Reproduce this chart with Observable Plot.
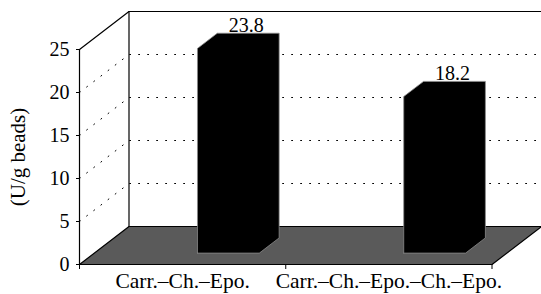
<!DOCTYPE html>
<html>
<head>
<meta charset="utf-8">
<script src="https://cdn.jsdelivr.net/npm/d3@7"></script>
<script src="https://cdn.jsdelivr.net/npm/@observablehq/plot@0.6"></script>
<style>
  html, body { margin: 0; padding: 0; background: white; }
  svg text { font-family: "Liberation Serif", "DejaVu Serif", serif !important; }
</style>
</head>
<body>
<div id="chart"></div>
<script>
// ---- data ----
const categories = ["Carr.–Ch.–Epo.", "Carr.–Ch.–Epo.–Ch.–Epo."];
const values = [23.8, 18.2];
const valueLabels = ["23.8", "18.2"];
const yTicks = [0, 5, 10, 15, 20, 25];
const yTitle = "(U/g beads)";

// ---- 3D layout (oblique projection in data units) ----
const FONT = "Liberation Serif";
const n = categories.length;
const yMax = 25;
const DX = 0.24;          // depth offset in x units
const DY = 38 / 8.6;      // depth offset in y units
const P = (cx, v, z) => ({x: cx + z * DX, y: v + z * DY});
const barX0 = 0.5, barX1 = 0.8, barZ0 = 0.3, barZ1 = 0.7;

const floor = [[0,0,0],[n,0,0],[n,0,1],[0,0,1],[0,0,0]].map(([c,v,z]) => P(c,v,z));
const grid = yTicks.filter(v => v > 0 && v < yMax).flatMap(v =>
  [P(0, v, 0), P(0, v, 1), P(n, v, 1)].map(p => ({...p, g: v})));
const wallEdges = [P(0, yMax, 0), P(0, yMax, 1), P(n, yMax, 1)];
const backLeft = [P(0, 0, 1), P(0, yMax, 1)];
const frontAxis = [P(0, 0, 0), P(0, yMax, 0)];
const bars = values.flatMap((v, i) => [
  [i + barX0, 0, barZ0], [i + barX0, v, barZ0], [i + barX0, v, barZ1],
  [i + barX1, v, barZ1], [i + barX1, 0, barZ1], [i + barX1, 0, barZ0],
  [i + barX0, 0, barZ0]
].map(([c, vv, z]) => ({...P(c, vv, z), g: i})));
const labels = values.map((v, i) => ({...P(i + (barX0 + barX1) / 2, v, barZ1), t: valueLabels[i]}));

const chart = Plot.plot({
  width: 541,
  height: 294,
  marginLeft: 79,
  marginRight: 0,
  marginTop: 11,
  marginBottom: 30,
  style: {fontFamily: FONT, fontSize: "20px", background: "white", color: "black"},
  x: {type: "linear", domain: [0, n + DX], axis: null},
  y: {type: "linear", domain: [0, yMax + DY], axis: null},
  marks: [
    Plot.line(grid, {x: "x", y: "y", z: "g", stroke: "black", strokeWidth: 1, strokeDasharray: "1,8"}),
    Plot.line(wallEdges, {x: "x", y: "y", stroke: "black", strokeWidth: 1.2}),
    Plot.line(backLeft, {x: "x", y: "y", stroke: "black", strokeWidth: 1.2}),
    Plot.line(floor, {x: "x", y: "y", fill: "#5a5a5a", stroke: "black", strokeWidth: 1.2}),
    Plot.line(bars, {x: "x", y: "y", z: "g", fill: "black", stroke: "#8a8a8a", strokeWidth: 0.8}),
    Plot.text(labels, {x: "x", y: "y", text: "t", lineAnchor: "bottom", dy: -1, dx: -2, fill: "black", fontSize: 20, fontFamily: FONT}),
    Plot.line(frontAxis, {x: "x", y: "y", stroke: "black", strokeWidth: 1.2}),
    Plot.axisY({ticks: yTicks, tickSize: 3, tickPadding: 7, label: null, fontSize: 20, fontFamily: FONT, tickFormat: d => String(d)}),
    Plot.axisX({ticks: d3.range(n + 1), tickSize: 5, tickFormat: () => "", label: null}),
    Plot.axisX({ticks: categories.map((c, i) => i + 0.5), tickSize: 0, tickPadding: 8, label: null, fontSize: 21.5, fontFamily: FONT,
      tickFormat: d => categories[Math.floor(d)]}),
    Plot.text([yTitle], {x: () => 0, y: () => yMax / 2, rotate: -90, dx: -61, text: d => d, fill: "black", fontSize: 21, fontFamily: FONT})
  ]
});
document.getElementById("chart").appendChild(chart);
</script>
</body>
</html>
